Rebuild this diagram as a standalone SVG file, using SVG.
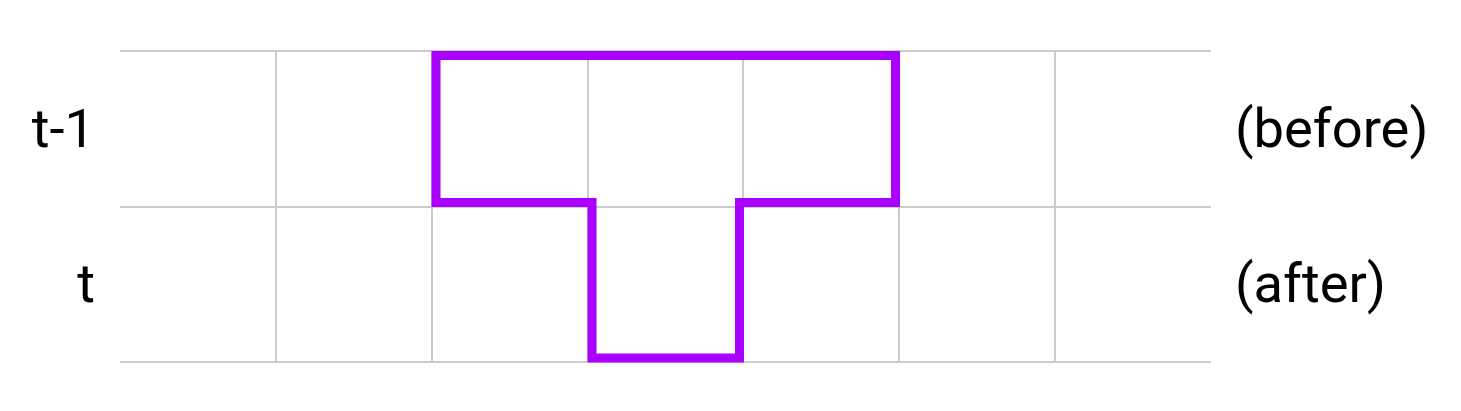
<svg xmlns="http://www.w3.org/2000/svg" width="1461" height="411" viewBox="0 0 1461 411">
  <style>
    .grid { fill: none; stroke: #cccccc; stroke-width: 2; }
    .shape { fill: none; stroke: #aa00ff; stroke-width: 9; stroke-linejoin: miter; }
    .lbl { font-family: Roboto, "Liberation Sans", sans-serif; font-size: 54.3px; fill: #000000; }
  </style>
  <rect width="1461" height="411" fill="#ffffff"/>
  <g id="grid">
    <line class="grid" x1="120" y1="51" x2="1211" y2="51"/>
    <line class="grid" x1="120" y1="207" x2="1211" y2="207"/>
    <line class="grid" x1="120" y1="362" x2="1211" y2="362"/>
    <line class="grid" x1="276" y1="51" x2="276" y2="362"/>
    <line class="grid" x1="432" y1="51" x2="432" y2="362"/>
    <line class="grid" x1="588" y1="51" x2="588" y2="362"/>
    <line class="grid" x1="743" y1="51" x2="743" y2="362"/>
    <line class="grid" x1="899" y1="51" x2="899" y2="362"/>
    <line class="grid" x1="1055" y1="51" x2="1055" y2="362"/>
  </g>
  <g id="t-shape">
    <path class="shape" d="M436,55.5 H895.5 V202.5 H739.5 V358 H592 V202.5 H436 Z"/>
  </g>
  <g id="labels">
    <text class="lbl" x="95" y="147" text-anchor="end">t-1</text>
    <text class="lbl" x="95" y="302" text-anchor="end">t</text>
    <text class="lbl" x="1235" y="147">(before)</text>
    <text class="lbl" x="1235" y="302">(after)</text>
  </g>
</svg>
